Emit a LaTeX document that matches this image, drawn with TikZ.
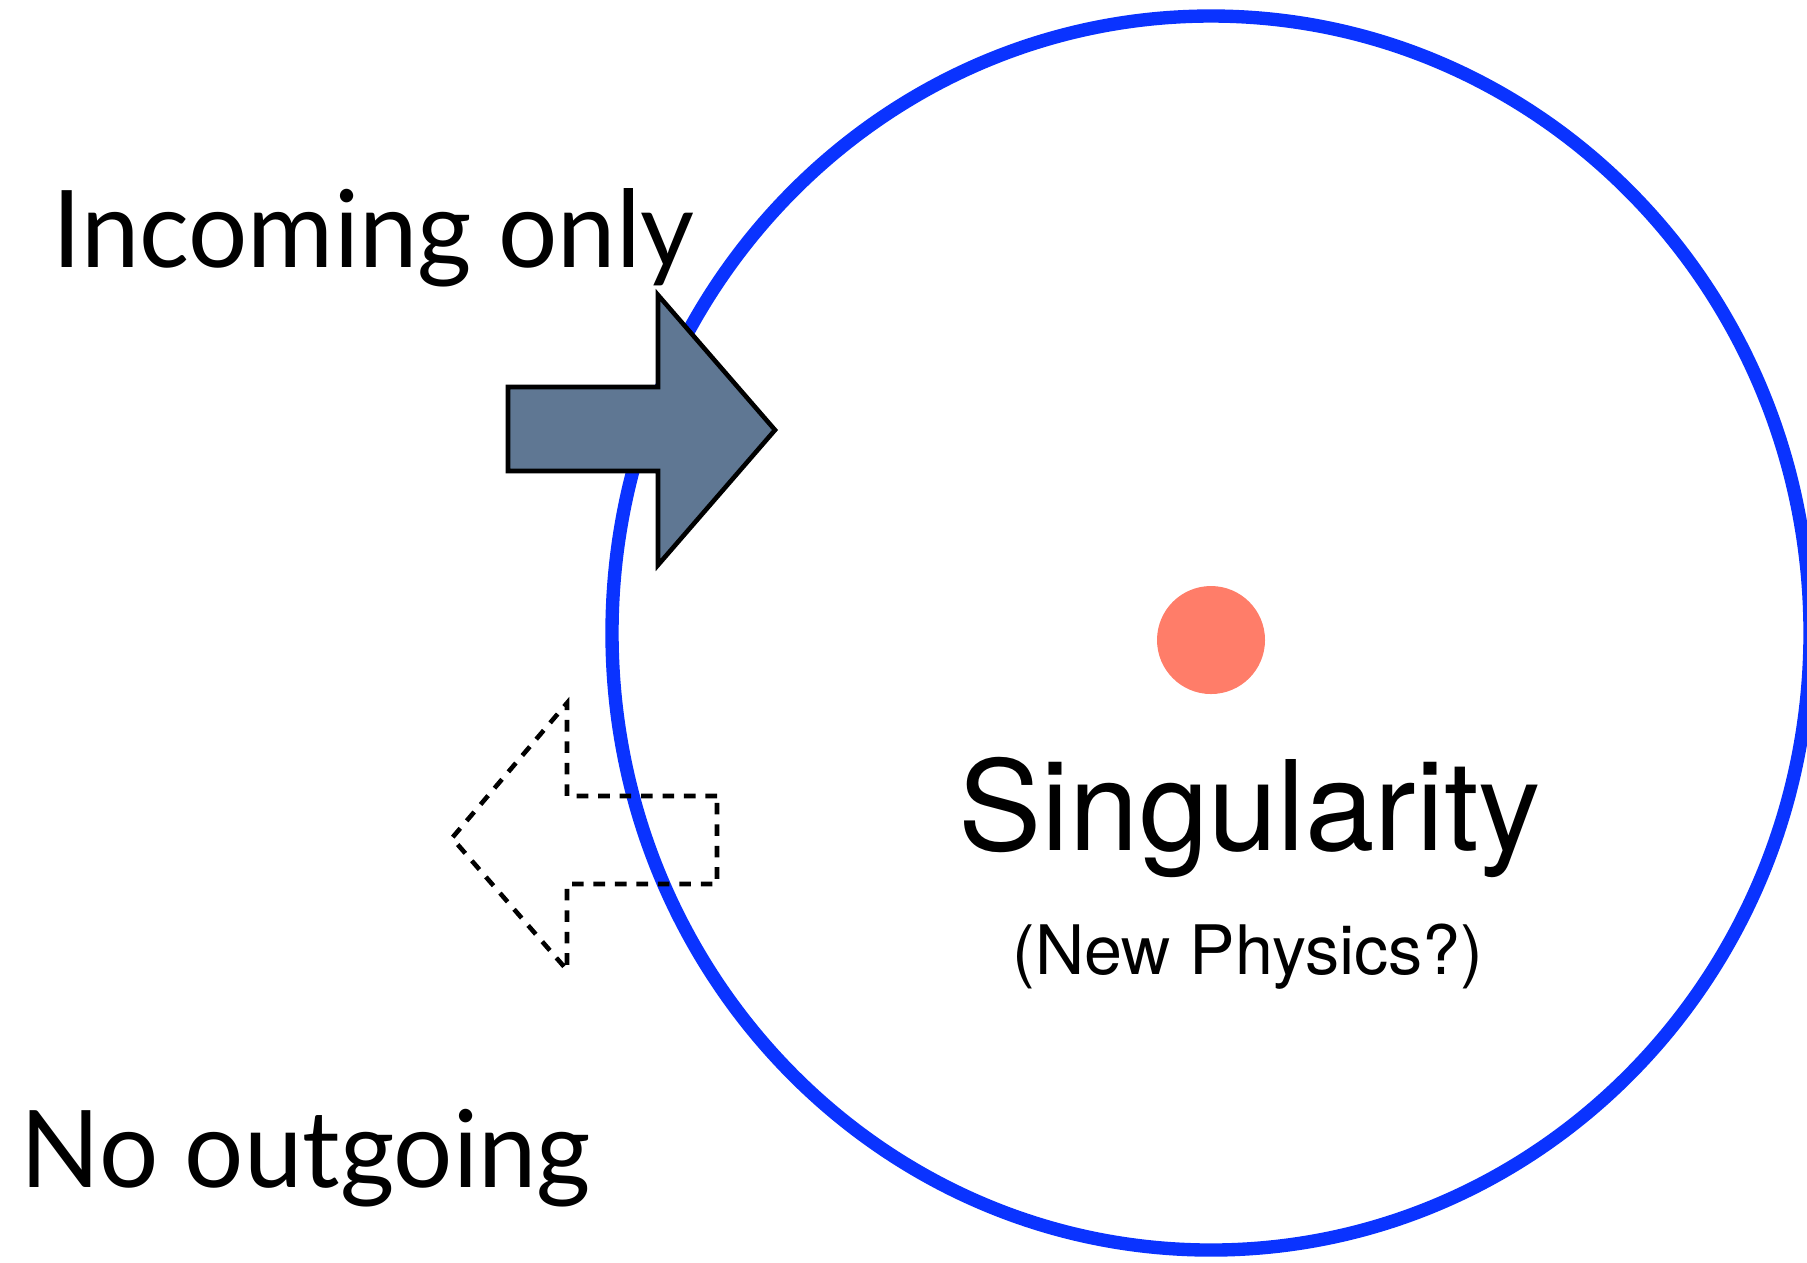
\documentclass[tikz,border=0pt]{standalone}
\usepackage{fontspec}
\setmainfont{Lato}
\newfontfamily\gill[FakeStretch=0.975]{Lato}
\newfontfamily\helv{TeX Gyre Heros}
\usetikzlibrary{positioning}
\definecolor{cHorizon}{HTML}{0A33FF}
\definecolor{cCore}   {HTML}{FF7D69}
\definecolor{cArrow}  {HTML}{5F7793}

\tikzset{
  sidetext/.style={anchor=base west,inner sep=0pt,font=\gill\fontsize{30.5}{36}\selectfont},
  bigtext/.style={anchor=base,inner sep=0pt,font=\helv\fontsize{35.5}{40}\selectfont},
  smalltext/.style={anchor=base,inner sep=0pt,font=\helv\fontsize{19.4}{22}\selectfont},
}

\begin{document}
\begin{tikzpicture}[x=0.01cm,y=-0.01cm]
  \useasboundingbox (0,0) rectangle (1807,1262);
  % horizon and singularity
  \draw[cHorizon,line width=3.8pt] (1211,633) ellipse [x radius=599,y radius=617];
  \fill[cCore] (1211,640) circle [radius=54];
  \node[bigtext]   (sing) at (1250,850) {Singularity};
  \node[smalltext] (np)   at (1248,974) {(New Physics?)};
  % incoming
  \filldraw[fill=cArrow,line width=1.3pt,line join=miter]
    (508,387) -- (658,387) -- (658,295) -- (775,430) -- (658,565)
    -- (658,471) -- (508,471) -- cycle;
  \node[sidetext] (inc) at (52,267) {Incoming only};
  % outgoing (forbidden)
  \draw[line width=1.3pt,dash pattern=on 3.3pt off 2.8pt]
    (717,796) -- (567,796) -- (567,703) -- (452,838) -- (567,970)
    -- (567,884) -- (717,884) -- cycle;
  \node[sidetext] (out) at (20,1187) {No outgoing};
\end{tikzpicture}
\end{document}
